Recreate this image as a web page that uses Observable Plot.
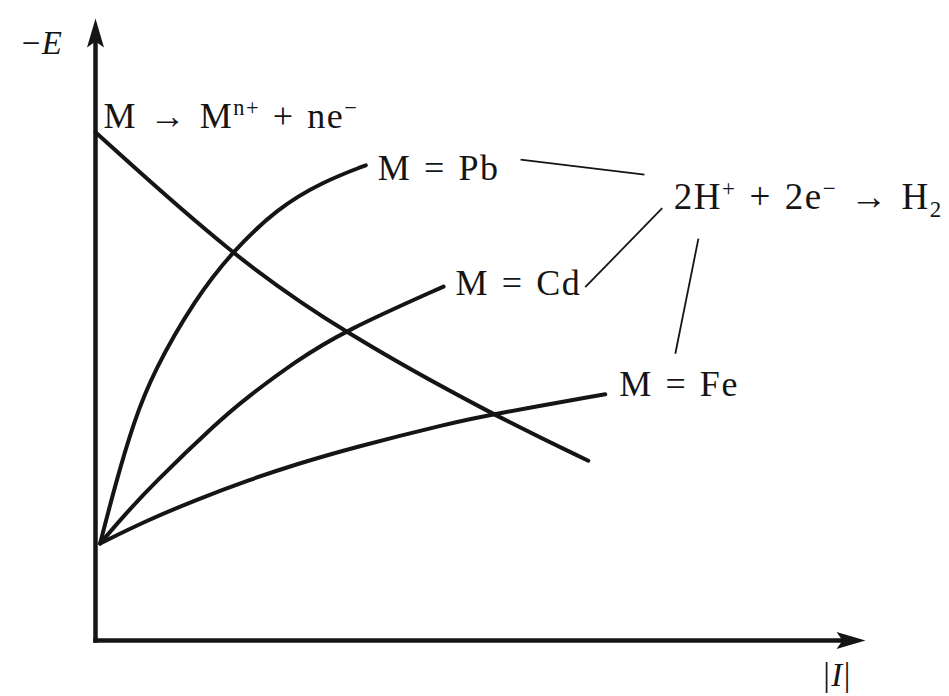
<!DOCTYPE html>
<html>
<head>
<meta charset="utf-8">
<script src="https://cdn.jsdelivr.net/npm/d3@7"></script>
<script src="https://cdn.jsdelivr.net/npm/@observablehq/plot@0.6"></script>
<style>
  html, body { margin: 0; padding: 0; background: #fff; }
  #chart svg { display: block; }
  #chart svg text { word-spacing: 0.06em; letter-spacing: 1.5px; }
</style>
</head>
<body>
<div id="chart"></div>
<script>
// Evans diagram: anodic metal dissolution vs. cathodic hydrogen evolution
// on Pb, Cd and Fe (|I| on x, −E on y, arbitrary units).

// Anodic branch M → Mⁿ⁺ + ne⁻
const anodicI = [0.00, 1.77, 3.22, 5.17, 6.40];
const anodicE = [8.17, 6.19, 4.95, 3.62, 2.89];

// Cathodic branches 2H⁺ + 2e⁻ → H₂ on each metal
const pbI = [0.06, 0.26, 0.49, 0.75, 1.30, 1.77, 2.36, 2.96, 3.51];
const pbE = [1.56, 2.52, 3.49, 4.32, 5.50, 6.24, 6.95, 7.38, 7.64];

const cdI = [0.06, 0.35, 0.75, 1.62, 1.95, 2.60, 3.22, 4.52];
const cdE = [1.56, 1.98, 2.52, 3.55, 3.89, 4.49, 4.97, 5.69];

const feI = [0.06, 0.65, 1.30, 2.01, 2.60, 3.31, 4.62, 5.17, 6.62];
const feE = [1.56, 1.92, 2.26, 2.59, 2.83, 3.09, 3.50, 3.64, 3.96];

const seriesNames = ["anodic", "Pb", "Cd", "Fe"];
const curveLabels = ["M → M^{n+} + ne^{−}", "M = Pb", "M = Cd", "M = Fe"];
const reactionLabel = "2H^{+} + 2e^{−} → H_{2}";
const axisLabels = ["−*E*", "|*I*|"];

// where the hydrogen-reaction label sits, and its leader lines to each metal label
const reactionAt = [{I: 7.51, E: 7.12}];
const leaders = [
  {I1: 5.52, E1: 7.73, I2: 7.13, E2: 7.49},
  {I1: 6.36, E1: 5.68, I2: 7.36, E2: 6.95},
  {I1: 7.83, E1: 6.46, I2: 7.53, E2: 4.61}
];

const ink = "#151515";
const fontSize = 36;

const rows = [];
[[anodicI, anodicE], [pbI, pbE], [cdI, cdE], [feI, feE]].forEach(([I, E], k) => {
  I.forEach((v, i) => rows.push({series: seriesNames[k], label: curveLabels[k], I: v, E: E[i]}));
});

// long, slightly notched arrowhead with its tip at the origin, pointing up
const arrowHead = {
  draw(ctx) {
    const L = 29, w = 8.5, notch = 23;
    ctx.moveTo(0, 0);
    ctx.lineTo(w, L);
    ctx.lineTo(0, notch);
    ctx.lineTo(-w, L);
    ctx.closePath();
  }
};

const axes = [
  {I1: 0, E1: 0, I2: 10, E2: 0, rot: 90},
  {I1: 0, E1: 0, I2: 0, E2: 10, rot: 0}
];

// label offsets (px) from the end of each branch
const labelOffsets = {
  anodic: {at: "first", dx: 8, dy: -16},
  Pb: {at: "last", dx: 12, dy: 3},
  Cd: {at: "last", dx: 12, dy: -3},
  Fe: {at: "last", dx: 14, dy: -10}
};

const labelMarks = seriesNames.map(name => {
  const sel = labelOffsets[name].at === "first" ? Plot.selectFirst : Plot.selectLast;
  return Plot.text(rows.filter(d => d.series === name), sel({
    x: "I", y: "E", text: "label",
    textAnchor: "start", lineAnchor: "middle",
    dx: labelOffsets[name].dx, dy: labelOffsets[name].dy,
    fontSize, fill: ink
  }));
});

const chart = Plot.plot({
  width: 949,
  height: 696,
  marginLeft: 95,
  marginRight: 84,
  marginTop: 18,
  marginBottom: 56,
  x: {domain: [0, 10], axis: null},
  y: {domain: [0, 10], axis: null},
  style: {background: "#fff", fontFamily: "'Liberation Serif', 'Times New Roman', serif", color: ink, overflow: "visible"},
  marks: [
    // axes with filled arrowheads
    Plot.arrow(axes, {x1: "I1", y1: "E1", x2: "I2", y2: "E2", headLength: 0, insetEnd: 14,
      stroke: ink, strokeWidth: 4.5, strokeLinecap: "square"}),
    Plot.dot(axes, {x: "I2", y: "E2", symbol: arrowHead, rotate: "rot", fill: ink, stroke: "none"}),
    // branches
    Plot.line(rows, {x: "I", y: "E", z: "series", curve: "basis",
      stroke: ink, strokeWidth: 4, strokeLinecap: "round", strokeLinejoin: "round"}),
    // leader lines
    Plot.link(leaders, {x1: "I1", y1: "E1", x2: "I2", y2: "E2", stroke: ink, strokeWidth: 1.8}),
    ...labelMarks,
    Plot.text(reactionAt, {x: "I", y: "E", text: () => reactionLabel, textAnchor: "start",
      lineAnchor: "middle", fontSize: 37, fill: ink}),
    // axis titles beside the arrow tips
    Plot.text([axes[1]], {x: "I2", y: "E2", text: () => axisLabels[0], textAnchor: "end",
      lineAnchor: "middle", dx: -32, dy: 25, fontSize: 33, fill: ink}),
    Plot.text([axes[0]], {x: "I2", y: "E2", text: () => axisLabels[1], textAnchor: "middle",
      lineAnchor: "middle", dx: -28, dy: 35, fontSize: 33, fill: ink})
  ]
});

document.getElementById("chart").append(chart);

// turn ^{..} (superscript), _{..} (subscript) and *..* (italic) into tspans
function richText(el) {
  const raw = el.textContent;
  if (!/[\^_*]/.test(raw)) return;
  const fs = parseFloat(getComputedStyle(el).fontSize) || fontSize;
  el.textContent = "";
  const re = /\^\{([^}]*)\}|_\{([^}]*)\}|\*([^*]*)\*|([^\^_*]+)/g;
  let m, offset = 0;
  const ns = "http://www.w3.org/2000/svg";
  while ((m = re.exec(raw))) {
    const t = document.createElementNS(ns, "tspan");
    let target = 0;
    if (m[1] !== undefined) {
      t.textContent = m[1];
      t.setAttribute("font-size", (fs * 0.62).toFixed(1));
      target = -fs * 0.36;
    } else if (m[2] !== undefined) {
      t.textContent = m[2];
      t.setAttribute("font-size", (fs * 0.62).toFixed(1));
      target = fs * 0.2;
    } else if (m[3] !== undefined) {
      t.textContent = m[3];
      t.setAttribute("font-style", "italic");
    } else {
      t.textContent = m[4];
    }
    if (target !== offset) t.setAttribute("dy", (target - offset).toFixed(1));
    offset = target;
    el.appendChild(t);
  }
}
chart.querySelectorAll("text").forEach(richText);
</script>
</body>
</html>
